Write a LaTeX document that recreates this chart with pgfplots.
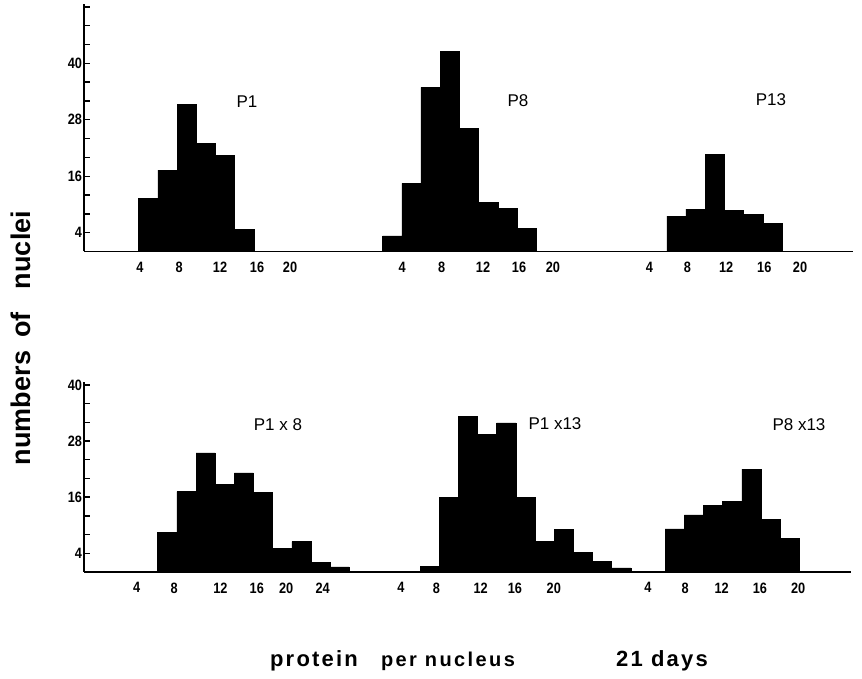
\documentclass[border=0pt]{standalone}
\usepackage{fontspec}
\setmainfont{Liberation Sans}
\newfontfamily\ticknar[FakeStretch=0.85]{Liberation Sans}
\usepackage{pgfplots}
\pgfplotsset{compat=1.18}
\pgfplotsset{
  panel/.style={
    scale only axis, clip=false,
    axis x line=bottom, axis y line=left,
    axis line style={-, line width=1.8pt, black},
    xmin=0, xmax=80.1, ymin=0,
    tick align=inside,
    major tick length=6pt, minor tick length=6pt,
    ytick style={line width=1.4pt, black},
    minor tick style={line width=1.4pt, black},
    xtick style={draw=none},
    /pgf/number format/assume math mode=true,
    tick label style={font=\fontsize{15}{15}\selectfont\ticknar\bfseries},
    xticklabel style={yshift=-7pt},
    yticklabel style={xshift=1.5pt},
  },
  hist/.style={ybar interval, fill=black, draw=black, line width=0.5pt},
}
\begin{document}
\begin{tikzpicture}[x=1pt,y=1pt]
\path[use as bounding box] (0,0) rectangle (862,679);

% ---------- top row ----------
\begin{axis}[panel, at={(84pt,427.5pt)}, anchor=south west,
  width=769pt, height=247pt, ymax=52.5,
  ytick={4,16,28,40}, minor ytick={8,12,20,24,32,36,44,48,52},
  xtick={5.83,9.90,14.17,18.02,21.46, 33.13,37.26,41.56,45.31,48.85, 58.89,62.84,66.88,70.86,74.58},
  xticklabels={4,8,12,16,20, 4,8,12,16,20, 4,8,12,16,20}]
% P1
\addplot[hist] table[row sep=\\, x expr=\thisrow{x}+1.7] {
x y\\ 4 11.3\\ 6 17.3\\ 8 31.3\\ 10 23.0\\ 12 20.4\\ 14 4.7\\ 16 0\\};
% P8
\addplot[hist] table[row sep=\\, x expr=\thisrow{x}+29.1] {
x y\\ 2 3.3\\ 4 14.5\\ 6 34.9\\ 8 42.5\\ 10 26.2\\ 12 10.4\\ 14 9.2\\ 16 4.9\\ 18 0\\};
% P13
\addplot[hist] table[row sep=\\, x expr=\thisrow{x}+54.7] {
x y\\ 6 7.5\\ 8 9.0\\ 10 20.7\\ 12 8.7\\ 14 7.9\\ 16 6.0\\ 18 0\\};
\end{axis}

% ---------- bottom row ----------
\begin{axis}[panel, at={(84pt,107pt)}, anchor=south west,
  width=767pt, height=190.3pt, ymax=40.7,
  ytick={4,16,28,40}, minor ytick={8,12,20,24,32,36},
  xtick={5.49,9.41,14.24,18.05,21.11,24.93, 33.09,36.80,41.43,45.0,49.06, 58.89,62.78,66.59,70.59,74.58},
  xticklabels={4,8,12,16,20,24, 4,8,12,16,20, 4,8,12,16,20}]
% P1 x 8
\addplot[hist] table[row sep=\\, x expr=\thisrow{x}+1.7] {
x y\\ 6 8.5\\ 8 17.2\\ 10 25.5\\ 12 18.8\\ 14 21.2\\ 16 17.0\\ 18 5.1\\ 20 6.5\\ 22 2.1\\ 24 1.1\\ 26 0\\};
% P1 x 13
\addplot[hist] table[row sep=\\, x expr=\thisrow{x}+29.1] {
x y\\ 6 1.2\\ 8 15.9\\ 10 33.3\\ 12 29.5\\ 14 31.9\\ 16 15.9\\ 18 6.6\\ 20 9.1\\ 22 4.2\\ 24 2.3\\ 26 0.9\\ 28 0\\};
% P8 x 13
\addplot[hist] table[row sep=\\, x expr=\thisrow{x}+54.7] {
x y\\ 6 9.2\\ 8 12.2\\ 10 14.2\\ 12 15.1\\ 14 22.0\\ 16 11.2\\ 18 7.2\\ 20 0\\};
\end{axis}

% ---------- panel titles ----------
\begin{scope}[every node/.style={font=\fontsize{17}{17}\selectfont, inner sep=0pt}]
\node at (247,577) {P1};
\node at (518,578) {P8};
\node at (771,579) {P13};
\node at (278,254) {P1 x 8};
\node at (555,255) {P1 x13};
\node at (799,254) {P8 x13};
\end{scope}

% ---------- axis labels ----------
\node[anchor=base, inner sep=0pt, font=\fontsize{22}{22}\selectfont\bfseries\addfontfeature{LetterSpace=10}] at (314,12) {protein};
\node[anchor=base, inner sep=0pt, font=\fontsize{20}{20}\selectfont\bfseries\addfontfeature{LetterSpace=12}] at (448,12) {per nucleus};
\node[anchor=base, inner sep=0pt, font=\fontsize{22}{22}\selectfont\bfseries\addfontfeature{LetterSpace=10}] at (662,12) {21 days};

\begin{scope}[every node/.style={rotate=90, anchor=base, inner sep=0pt, font=\fontsize{27}{27}\selectfont\bfseries}]
\node at (31,271) {numbers};
\node at (31,354) {of};
\node at (31,429) {nuclei};
\end{scope}
\end{tikzpicture}
\end{document}
